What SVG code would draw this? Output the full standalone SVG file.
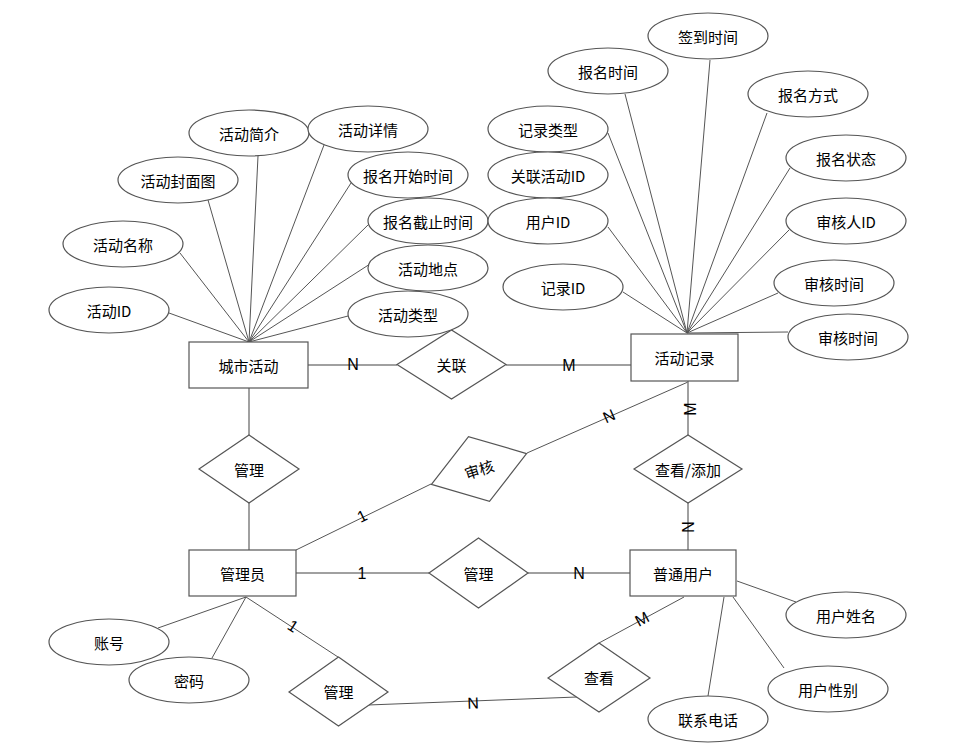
<svg xmlns="http://www.w3.org/2000/svg" width="960" height="749" viewBox="0 0 960 749">
<style>
.bg{fill:#fff}
.ent rect,.rel polygon,.att ellipse{fill:#fff;stroke:#555;stroke-width:1.2}
text{font-family:"Noto Sans CJK SC","Liberation Sans",sans-serif;font-size:15px;fill:#000;text-anchor:middle;dominant-baseline:central}
.lbl{font-family:"Liberation Sans","Noto Sans CJK SC",sans-serif;font-size:16px}
#connectors line,#connectors polyline{stroke:#555;stroke-width:1;fill:none}
#connectors .rl{stroke:#808080;stroke-width:1.5}
</style>
<rect class="bg" width="960" height="749"/>
<g id="connectors">
<line x1="169" y1="313" x2="249" y2="342"/>
<line x1="180" y1="253" x2="249" y2="342"/>
<line x1="208" y1="200" x2="249" y2="342"/>
<line x1="258" y1="156" x2="249" y2="342"/>
<line x1="324" y1="145" x2="249" y2="342"/>
<line x1="351" y1="183" x2="249" y2="342"/>
<line x1="370" y1="223" x2="249" y2="342"/>
<line x1="370" y1="264" x2="249" y2="342"/>
<line x1="348" y1="316" x2="249" y2="342"/>
<line x1="710" y1="60" x2="687" y2="333"/>
<line x1="625" y1="94" x2="687" y2="333"/>
<line x1="767" y1="113" x2="687" y2="333"/>
<line x1="608" y1="133" x2="687" y2="333"/>
<line x1="608" y1="227" x2="687" y2="333"/>
<line x1="623" y1="292" x2="687" y2="333"/>
<line x1="790" y1="168" x2="687" y2="333"/>
<line x1="789" y1="230" x2="687" y2="333"/>
<line x1="778" y1="293" x2="687" y2="333"/>
<line x1="788" y1="332" x2="687" y2="333"/>
<line class="rl" x1="308" y1="365" x2="397" y2="365"/>
<line class="rl" x1="506" y1="365" x2="631" y2="365"/>
<line class="rl" x1="249" y1="388" x2="249" y2="435"/>
<line class="rl" x1="249" y1="503" x2="249" y2="550"/>
<line x1="296" y1="550" x2="431" y2="484"/>
<line x1="527" y1="453" x2="688" y2="382"/>
<line class="rl" x1="688" y1="381" x2="688" y2="435"/>
<line class="rl" x1="688" y1="503" x2="688" y2="550"/>
<line class="rl" x1="296" y1="573" x2="429" y2="573"/>
<line class="rl" x1="528" y1="573" x2="630" y2="573"/>
<line x1="158" y1="628" x2="246" y2="597"/>
<line x1="212" y1="658" x2="246" y2="597"/>
<line x1="246" y1="597" x2="338" y2="657"/>
<line x1="368" y1="705" x2="577" y2="697"/>
<line x1="599" y1="643" x2="684" y2="597"/>
<line x1="737" y1="581" x2="796" y2="602"/>
<line x1="733" y1="597" x2="784" y2="668"/>
<line x1="724" y1="597" x2="708" y2="696"/>
<text class="lbl" x="353" y="364">N</text>
<text class="lbl" x="569" y="365">M</text>
<text class="lbl" transform="translate(362,516) rotate(-26)">1</text>
<text class="lbl" transform="translate(609,416) rotate(-24)">N</text>
<text class="lbl" transform="translate(690,409) rotate(-90)">M</text>
<text class="lbl" transform="translate(687,527) rotate(90)">N</text>
<text class="lbl" x="362" y="573">1</text>
<text class="lbl" x="579" y="573">N</text>
<text class="lbl" transform="translate(293,626) rotate(33)">1</text>
<text class="lbl" transform="translate(642,619) rotate(-28)">M</text>
<text class="lbl" transform="translate(473,703) rotate(-2)">N</text>
</g>
<g id="e-city" class="ent"><rect x="189" y="342" width="119" height="46"/><text x="248.5" y="365">城市活动</text></g>
<g id="e-record" class="ent"><rect x="631" y="334" width="107" height="47"/><text x="684.5" y="357.5">活动记录</text></g>
<g id="e-admin" class="ent"><rect x="189" y="550" width="107" height="46"/><text x="242.5" y="573">管理员</text></g>
<g id="e-user" class="ent"><rect x="630" y="550" width="106" height="46"/><text x="683" y="573">普通用户</text></g>
<g id="r-link" class="rel"><polygon points="397,364.5 451.5,330 506,364.5 451.5,399"/><text x="451.5" y="364.5">关联</text></g>
<g id="r-manage1" class="rel"><polygon points="199,469 249,435 299,469 249,503"/><text x="249" y="469">管理</text></g>
<g id="r-audit" class="rel"><polygon transform="rotate(-18,479,469)" points="429,469 479,435 529,469 479,503"/><text transform="translate(479,469) rotate(-18)">审核</text></g>
<g id="r-view-add" class="rel"><polygon points="634,469 688,435 742,469 688,503"/><text x="688" y="469">查看/添加</text></g>
<g id="r-manage2" class="rel"><polygon points="429,573 478.5,538 528,573 478.5,608"/><text x="478.5" y="573">管理</text></g>
<g id="r-manage3" class="rel"><polygon points="289,692 338.5,657 388,692 338.5,726"/><text x="338.5" y="691">管理</text></g>
<g id="r-view" class="rel"><polygon points="548,678 599,643 650,678 599,712"/><text x="599" y="677">查看</text></g>
<g id="a-act-id" class="att"><ellipse cx="109" cy="310" rx="60" ry="23"/><text x="109" y="310">活动ID</text></g>
<g id="a-act-name" class="att"><ellipse cx="123" cy="244" rx="60" ry="23"/><text x="123" y="244">活动名称</text></g>
<g id="a-act-cover" class="att"><ellipse cx="178" cy="180" rx="60" ry="23"/><text x="178" y="180">活动封面图</text></g>
<g id="a-act-brief" class="att"><ellipse cx="249" cy="133" rx="60" ry="23"/><text x="249" y="133">活动简介</text></g>
<g id="a-act-detail" class="att"><ellipse cx="368" cy="129" rx="60" ry="23"/><text x="368" y="129">活动详情</text></g>
<g id="a-reg-start" class="att"><ellipse cx="408" cy="175" rx="60" ry="23"/><text x="408" y="175">报名开始时间</text></g>
<g id="a-reg-end" class="att"><ellipse cx="428" cy="221" rx="60" ry="23"/><text x="428" y="221">报名截止时间</text></g>
<g id="a-act-place" class="att"><ellipse cx="428" cy="268" rx="60" ry="23"/><text x="428" y="268">活动地点</text></g>
<g id="a-act-type" class="att"><ellipse cx="408" cy="314" rx="60" ry="23"/><text x="408" y="314">活动类型</text></g>
<g id="a-signin" class="att"><ellipse cx="708" cy="36" rx="60" ry="23"/><text x="708" y="36">签到时间</text></g>
<g id="a-reg-time" class="att"><ellipse cx="608" cy="71" rx="60" ry="23"/><text x="608" y="71">报名时间</text></g>
<g id="a-reg-way" class="att"><ellipse cx="808" cy="94" rx="60" ry="23"/><text x="808" y="94">报名方式</text></g>
<g id="a-rec-type" class="att"><ellipse cx="548" cy="129" rx="60" ry="23"/><text x="548" y="129">记录类型</text></g>
<g id="a-rel-act" class="att"><ellipse cx="548" cy="175" rx="60" ry="23"/><text x="548" y="175">关联活动ID</text></g>
<g id="a-user-id" class="att"><ellipse cx="548" cy="221" rx="60" ry="23"/><text x="548" y="221">用户ID</text></g>
<g id="a-rec-id" class="att"><ellipse cx="563" cy="287" rx="60" ry="23"/><text x="563" y="287">记录ID</text></g>
<g id="a-reg-status" class="att"><ellipse cx="846" cy="158" rx="60" ry="23"/><text x="846" y="158">报名状态</text></g>
<g id="a-auditor" class="att"><ellipse cx="846" cy="221" rx="60" ry="23"/><text x="846" y="221">审核人ID</text></g>
<g id="a-audit-time1" class="att"><ellipse cx="834" cy="283" rx="60" ry="23"/><text x="834" y="283">审核时间</text></g>
<g id="a-audit-time2" class="att"><ellipse cx="848" cy="337" rx="60" ry="23"/><text x="848" y="337">审核时间</text></g>
<g id="a-account" class="att"><ellipse cx="109" cy="642" rx="60" ry="23"/><text x="109" y="642">账号</text></g>
<g id="a-password" class="att"><ellipse cx="189" cy="680" rx="60" ry="23"/><text x="189" y="680">密码</text></g>
<g id="a-user-name" class="att"><ellipse cx="846" cy="615" rx="60" ry="23"/><text x="846" y="615">用户姓名</text></g>
<g id="a-user-gender" class="att"><ellipse cx="828" cy="689" rx="60" ry="23"/><text x="828" y="689">用户性别</text></g>
<g id="a-phone" class="att"><ellipse cx="708" cy="719" rx="60" ry="23"/><text x="708" y="719">联系电话</text></g>
</svg>
